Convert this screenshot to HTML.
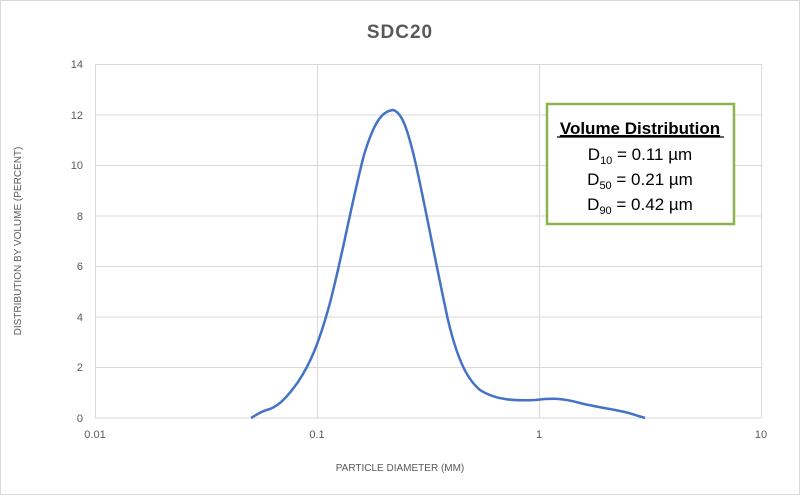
<!DOCTYPE html>
<html><head><style>
body{margin:0;background:#fff;}
svg text{font-family:"Liberation Sans",sans-serif;}
</style></head><body>
<svg width="800" height="495" xmlns="http://www.w3.org/2000/svg">
<rect x="0.5" y="0.5" width="799" height="494" fill="#fff" stroke="#d9d9d9"/>
<text x="400" y="38" text-anchor="middle" font-size="19" font-weight="bold" fill="#595959" letter-spacing="1">SDC20</text>
<g stroke="#d9d9d9" stroke-width="1">
<line x1="95" y1="64.5" x2="761" y2="64.5"/>
<line x1="95" y1="115" x2="761" y2="115"/>
<line x1="95" y1="165.5" x2="761" y2="165.5"/>
<line x1="95" y1="216" x2="761" y2="216"/>
<line x1="95" y1="266.5" x2="761" y2="266.5"/>
<line x1="95" y1="317" x2="761" y2="317"/>
<line x1="95" y1="367.5" x2="761" y2="367.5"/>
<line x1="95" y1="418" x2="761" y2="418"/>
<line x1="95.5" y1="64" x2="95.5" y2="418"/>
<line x1="317.5" y1="64" x2="317.5" y2="418"/>
<line x1="539.5" y1="64" x2="539.5" y2="418"/>
<line x1="761.5" y1="64" x2="761.5" y2="418"/>
</g>
<g font-size="11" fill="#595959" text-anchor="end">
<text x="83" y="68">14</text><text x="83" y="119">12</text><text x="83" y="169">10</text>
<text x="83" y="220">8</text><text x="83" y="270">6</text><text x="83" y="321">4</text>
<text x="83" y="371">2</text><text x="83" y="422">0</text>
</g>
<g font-size="11" fill="#595959" text-anchor="middle">
<text x="95" y="438">0.01</text><text x="317" y="438">0.1</text><text x="539" y="438">1</text><text x="761" y="438">10</text>
</g>
<text x="400" y="471" text-anchor="middle" font-size="10" fill="#595959">PARTICLE DIAMETER (MM)</text>
<text transform="translate(21,241) rotate(-90)" text-anchor="middle" font-size="10" fill="#595959">DISTRIBUTION BY VOLUME (PERCENT)</text>
<path d="M251,418 C258,414 262,411 270,409 C280,405 288,396 298,382 C310,364 318,345 328,310 C340,268 352,200 364,155 C374,122 382,111 393,110 C402,112 408,130 416,165 C426,210 436,265 448,320 C458,362 468,380 480,390 C495,400 515,401 535,400 C552,398 562,398 580,403 C600,408 620,410 632,414 L645,418" fill="none" stroke="#4472c4" stroke-width="2.5" stroke-linejoin="round"/>
<rect x="547" y="104" width="187" height="120" fill="#fff" stroke="#8cb44c" stroke-width="2.5"/>
<g font-size="17" fill="#000" text-anchor="middle">
<text x="640" y="134" font-weight="bold" text-decoration="underline">Volume Distribution</text>
<text x="640" y="160">D<tspan font-size="11" dy="4">10</tspan><tspan dy="-4"> = 0.11 µm</tspan></text>
<text x="640" y="185">D<tspan font-size="11" dy="4">50</tspan><tspan dy="-4"> = 0.21 µm</tspan></text>
<text x="640" y="210">D<tspan font-size="11" dy="4">90</tspan><tspan dy="-4"> = 0.42 µm</tspan></text>
</g>
<line x1="557" y1="137" x2="724" y2="137" stroke="#000" stroke-width="1.3"/>
</svg>
</body></html>
